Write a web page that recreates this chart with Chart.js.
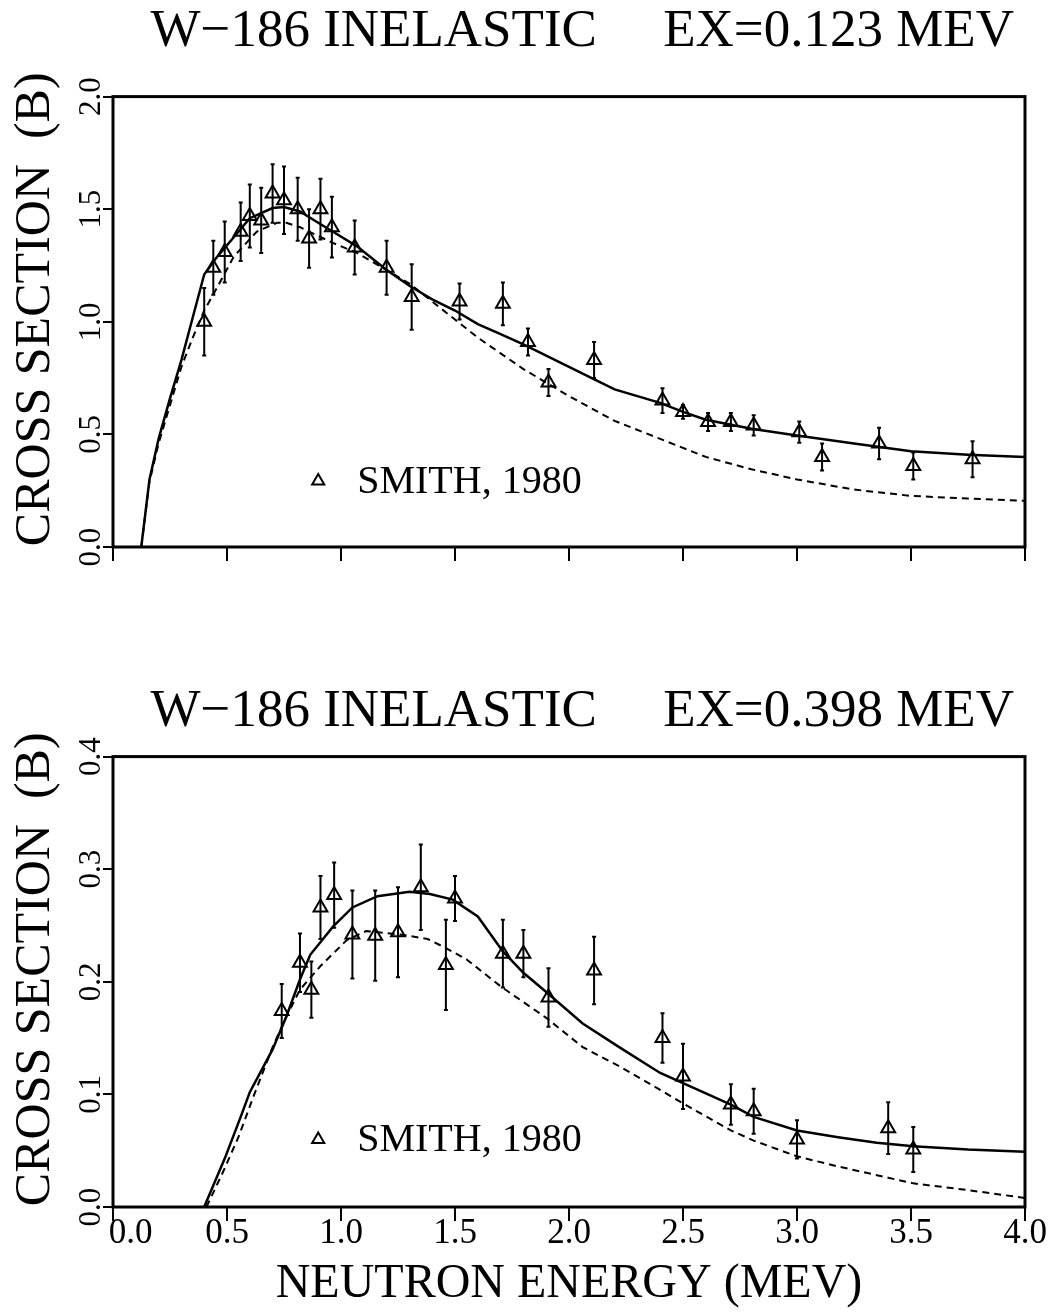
<!DOCTYPE html>
<html>
<head>
<meta charset="utf-8">
<script src="https://cdn.jsdelivr.net/npm/chart.js@4.4.0/dist/chart.umd.min.js"></script>
<style>
body { margin: 0; background: #fff; }
canvas { position: absolute; left: 0; }
#top_chart { top: 0; }
#bottom_chart { top: 650px; }
</style>
</head>
<body>
<canvas id="top_chart" width="1060" height="650"></canvas>
<canvas id="bottom_chart" width="1060" height="663"></canvas>
<script>
// EX=0.123 MeV level: Smith 1980 points
var top_energy = [0.40, 0.44, 0.49, 0.56, 0.60, 0.65, 0.70, 0.75, 0.81, 0.86, 0.91, 0.96, 1.06, 1.20, 1.31,
                  1.52, 1.71, 1.82, 1.91, 2.11, 2.41, 2.50, 2.61, 2.71, 2.81, 3.01, 3.11, 3.36, 3.51, 3.77];
var top_xs = [1.00, 1.24, 1.31, 1.40, 1.47, 1.45, 1.57, 1.54, 1.50, 1.37, 1.50, 1.42, 1.33, 1.24, 1.11,
              1.09, 1.08, 0.91, 0.73, 0.83, 0.65, 0.60, 0.555, 0.555, 0.54, 0.51, 0.40, 0.46, 0.36, 0.39];
var top_err = [0.15, 0.12, 0.135, 0.13, 0.14, 0.145, 0.13, 0.15, 0.14, 0.13, 0.135, 0.135, 0.12, 0.12, 0.145,
               0.08, 0.095, 0.06, 0.06, 0.08, 0.055, 0.03, 0.04, 0.04, 0.045, 0.047, 0.06, 0.07, 0.06, 0.08];

// EX=0.123 MeV level: calculations (solid, dashed)
var top_solid_e = [0.124, 0.16, 0.20, 0.25, 0.30, 0.35, 0.40, 0.45, 0.50, 0.55, 0.60, 0.70, 0.75, 0.82, 0.90,
                   0.965, 1.07, 1.20, 1.30, 1.40, 1.50, 1.60, 1.70, 1.80, 1.90, 2.00, 2.10, 2.20, 2.40, 2.50,
                   2.60, 2.80, 3.00, 3.25, 3.50, 3.75, 4.00];
var top_solid = [0, 0.30, 0.48, 0.66, 0.83, 1.02, 1.21, 1.28, 1.34, 1.40, 1.46, 1.505, 1.51, 1.49, 1.44,
                 1.40, 1.335, 1.23, 1.16, 1.10, 1.05, 0.99, 0.945, 0.90, 0.85, 0.80, 0.75, 0.70, 0.64, 0.60,
                 0.565, 0.525, 0.495, 0.46, 0.425, 0.41, 0.40];
var top_dash_e = [0.124, 0.16, 0.20, 0.25, 0.30, 0.35, 0.40, 0.45, 0.53, 0.63, 0.72, 0.76, 0.82, 0.965, 1.07,
                  1.20, 1.30, 1.40, 1.50, 1.60, 1.70, 1.80, 1.90, 2.00, 2.20, 2.40, 2.60, 2.80, 3.00, 3.25,
                  3.50, 3.75, 4.00];
var top_dash = [0, 0.29, 0.46, 0.63, 0.80, 0.93, 1.05, 1.14, 1.29, 1.40, 1.44, 1.44, 1.42, 1.35, 1.306,
                1.23, 1.17, 1.09, 1.01, 0.93, 0.86, 0.79, 0.73, 0.67, 0.56, 0.48, 0.40, 0.345, 0.30, 0.255,
                0.227, 0.215, 0.205];

// EX=0.398 MeV level: Smith 1980 points
var bot_energy = [0.74, 0.82, 0.87, 0.91, 0.97, 1.05, 1.15, 1.25, 1.35, 1.46, 1.50, 1.71, 1.80, 1.91, 2.11,
                  2.41, 2.50, 2.71, 2.81, 3.00, 3.40, 3.51];
var bot_xs = [0.174, 0.217, 0.193, 0.266, 0.277, 0.242, 0.241, 0.244, 0.284, 0.215, 0.274, 0.225, 0.225, 0.186, 0.21,
              0.15, 0.116, 0.091, 0.085, 0.060, 0.070, 0.051];
var bot_err = [0.024, 0.026, 0.025, 0.028, 0.029, 0.039, 0.04, 0.04, 0.038, 0.04, 0.02, 0.03, 0.021, 0.026, 0.03,
               0.022, 0.029, 0.018, 0.02, 0.017, 0.023, 0.02];

// EX=0.398 MeV level: calculations (solid, dashed)
var bot_solid_e = [0.40, 0.45, 0.49, 0.56, 0.60, 0.70, 0.76, 0.82, 0.865, 0.965, 1.05, 1.16, 1.30, 1.39, 1.49,
                   1.60, 1.71, 1.80, 1.90, 2.06, 2.22, 2.40, 2.50, 2.71, 2.81, 3.00, 3.18, 3.35, 3.51, 3.75, 4.00];
var bot_solid = [0, 0.024, 0.043, 0.08, 0.102, 0.140, 0.169, 0.202, 0.224, 0.249, 0.266, 0.276, 0.28, 0.278, 0.273,
                 0.258, 0.227, 0.208, 0.191, 0.163, 0.142, 0.119, 0.11, 0.091, 0.08, 0.068, 0.062, 0.057, 0.054, 0.051, 0.049];
var bot_dash_e = [0.41, 0.48, 0.55, 0.614, 0.70, 0.76, 0.82, 0.91, 1.025, 1.11, 1.26, 1.38, 1.46, 1.55, 1.70,
                  1.90, 2.06, 2.22, 2.40, 2.50, 2.71, 2.81, 3.00, 3.18, 3.40, 3.51, 3.75, 4.00];
var bot_dash = [0, 0.03, 0.062, 0.097, 0.142, 0.169, 0.193, 0.214, 0.237, 0.245, 0.242, 0.238, 0.230, 0.22, 0.196,
                0.168, 0.142, 0.125, 0.104, 0.092, 0.068, 0.059, 0.045, 0.036, 0.026, 0.021, 0.015, 0.008];

var FONT = 'Liberation Serif';

function pairs(xs, ys) {
    return xs.map(function (x, i) { return { x: x, y: ys[i] }; });
}

// vertical error bars through the experimental points
var errorBars = {
    id: 'errorBars',
    afterDatasetsDraw: function (chart) {
        var ctx = chart.ctx, sx = chart.scales.x, sy = chart.scales.y;
        ctx.save();
        ctx.strokeStyle = '#000';
        ctx.lineWidth = 2;
        chart.data.datasets.forEach(function (ds) {
            if (!ds.errors) return;
            ds.data.forEach(function (p, i) {
                var px = sx.getPixelForValue(p.x);
                var lo = sy.getPixelForValue(p.y - ds.errors[i]);
                var hi = sy.getPixelForValue(p.y + ds.errors[i]);
                ctx.beginPath();
                ctx.moveTo(px, lo); ctx.lineTo(px, hi);
                ctx.moveTo(px - 2, lo); ctx.lineTo(px + 2, lo);
                ctx.moveTo(px - 2, hi); ctx.lineTo(px + 2, hi);
                ctx.stroke();
            });
        });
        ctx.restore();
    }
};

// heavy box round the plot + the "SMITH, 1980" key
var frameAndKey = {
    id: 'frameAndKey',
    afterDraw: function (chart, args, opts) {
        var a = chart.chartArea, ctx = chart.ctx;
        ctx.save();
        ctx.strokeStyle = '#000';
        ctx.lineWidth = 3;
        ctx.strokeRect(a.left, a.top, a.right - a.left, a.bottom - a.top);

        var kx = chart.scales.x.getPixelForValue(opts.keyX);
        var ky = chart.scales.y.getPixelForValue(opts.keyY);
        var r = 7;
        ctx.lineWidth = 2;
        ctx.beginPath();
        ctx.moveTo(kx, ky - r);
        ctx.lineTo(kx + r * 0.866, ky + r / 2);
        ctx.lineTo(kx - r * 0.866, ky + r / 2);
        ctx.closePath();
        ctx.stroke();

        ctx.fillStyle = '#000';
        ctx.font = '40px "' + FONT + '"';
        ctx.textBaseline = 'middle';
        ctx.textAlign = 'left';
        ctx.fillText(opts.keyText, kx + 39, ky + 1);
        ctx.restore();
    }
};

function make_chart(canvas, o) {
    return new Chart(canvas, {
        data: {
            datasets: [
                {
                    type: 'line',
                    data: pairs(o.solidE, o.solid),
                    borderColor: '#000',
                    borderWidth: 2.5,
                    pointRadius: 0,
                    fill: false,
                    tension: 0
                },
                {
                    type: 'line',
                    data: pairs(o.dashE, o.dash),
                    borderColor: '#000',
                    borderWidth: 2,
                    borderDash: [7, 5],
                    pointRadius: 0,
                    fill: false,
                    tension: 0
                },
                {
                    type: 'scatter',
                    data: pairs(o.energy, o.xs),
                    errors: o.err,
                    pointStyle: 'triangle',
                    pointRadius: 8,
                    pointBorderWidth: 2,
                    pointBorderColor: '#000',
                    pointBackgroundColor: 'rgba(0,0,0,0)'
                }
            ]
        },
        options: {
            responsive: false,
            animation: false,
            events: [],
            layout: { padding: { left: 0, right: 35, top: 0, bottom: 0 } },
            plugins: {
                legend: { display: false },
                tooltip: { enabled: false },
                title: {
                    display: true,
                    text: o.title,
                    fullSize: false,
                    color: '#000',
                    font: { family: FONT, size: 53, weight: 'normal' },
                    padding: o.titlePad
                },
                frameAndKey: { keyX: o.keyX, keyY: o.keyY, keyText: 'SMITH, 1980' }
            },
            scales: {
                x: {
                    type: 'linear',
                    min: 0,
                    max: 4,
                    ticks: {
                        display: o.showX,
                        stepSize: 0.5,
                        maxRotation: 0,
                        color: '#000',
                        padding: -8,
                        font: { family: FONT, size: 35 },
                        // first label sits clear of the y axis, as in the plot
                        callback: function (v) { return v === 0 ? '    0.0' : v.toFixed(1); }
                    },
                    grid: { drawOnChartArea: false, tickLength: 14, color: '#000', lineWidth: 2 },
                    border: { display: false },
                    title: {
                        display: o.showX,
                        text: 'NEUTRON ENERGY (MEV)',
                        color: '#000',
                        font: { family: FONT, size: 48 },
                        padding: { top: 0, bottom: 0 }
                    },
                    afterFit: function (s) { s.height = o.xHeight; }
                },
                y: {
                    type: 'linear',
                    min: 0,
                    max: o.yMax,
                    ticks: {
                        stepSize: o.yStep,
                        minRotation: 90,
                        maxRotation: 90,
                        crossAlign: 'center',
                        padding: -8,
                        color: '#000',
                        font: { family: FONT, size: 31 },
                        callback: function (v) { return v.toFixed(1); }
                    },
                    grid: { drawOnChartArea: false, tickLength: 10, color: '#000', lineWidth: 2 },
                    border: { display: false },
                    title: {
                        display: true,
                        text: '  CROSS SECTION  (B)',
                        color: '#000',
                        font: { family: FONT, size: 50 },
                        padding: { top: 6, bottom: 0 }
                    },
                    afterFit: function (s) { s.width = 113; }
                }
            }
        },
        plugins: [errorBars, frameAndKey]
    });
}

make_chart(document.getElementById('top_chart'), {
    title: '  W\u2212186 INELASTIC     EX=0.123 MEV',
    titlePad: { top: 0, bottom: 33 },
    energy: top_energy, xs: top_xs, err: top_err,
    solidE: top_solid_e, solid: top_solid,
    dashE: top_dash_e, dash: top_dash,
    yMax: 2.0, yStep: 0.5,
    showX: false, xHeight: 103,
    keyX: 0.90, keyY: 0.293
});

make_chart(document.getElementById('bottom_chart'), {
    title: '  W\u2212186 INELASTIC     EX=0.398 MEV',
    titlePad: { top: 30, bottom: 13 },
    energy: bot_energy, xs: bot_xs, err: bot_err,
    solidE: bot_solid_e, solid: bot_solid,
    dashE: bot_dash_e, dash: bot_dash,
    yMax: 0.4, yStep: 0.1,
    showX: true, xHeight: 106,
    keyX: 0.90, keyY: 0.06
});
</script>
</body>
</html>
